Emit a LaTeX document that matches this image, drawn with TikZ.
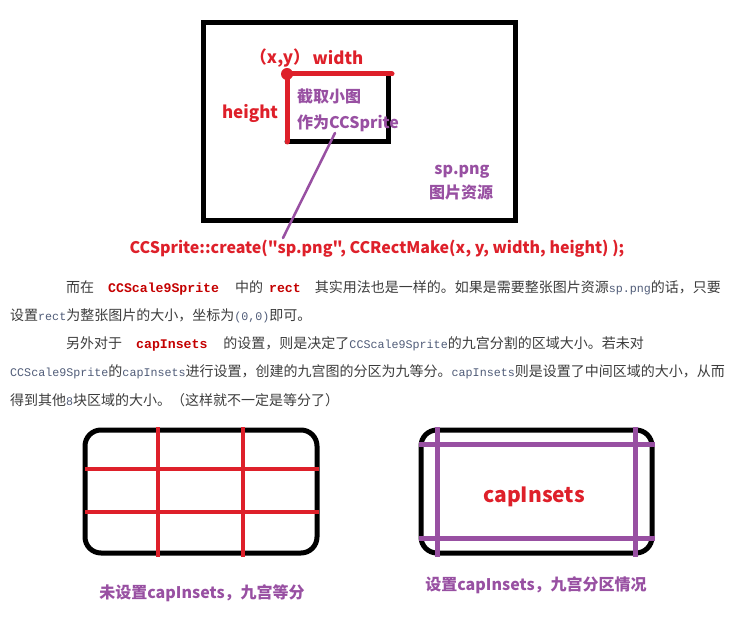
\documentclass[tikz,border=0pt]{standalone}
\usepackage{fontspec}
\setmainfont{Noto Sans CJK SC}[Ligatures=TeXOff]
\setmonofont{Liberation Mono}
\usepackage{xcolor}
\usepackage{tikz}
\usetikzlibrary{calc, positioning}

\definecolor{picred}{RGB}{222,32,42}
\definecolor{picpurple}{RGB}{152,80,162}
\definecolor{codered}{RGB}{196,0,0}
\definecolor{bodygray}{RGB}{60,60,60}
\definecolor{codegray}{RGB}{80,92,120}

\newcommand{\hl}[1]{\textcolor{codered}{\fontsize{13.2}{16}\ttfamily\bfseries #1}}
\newcommand{\cd}[1]{\textcolor{codegray}{\fontsize{11.7}{16}\ttfamily #1}}

\tikzset{
  frame/.style={draw=black, line width=5pt},
  redline/.style={draw=picred, line width=5pt},
  gridred/.style={draw=picred, line width=4pt},
  gridpurple/.style={draw=picpurple, line width=5pt},
  redlbl/.style={text=picred, inner sep=0pt, font=\fontsize{17}{20}\selectfont\bfseries},
  purplbl/.style={text=picpurple, inner sep=0pt, font=\fontsize{16}{19}\selectfont\bfseries},
  bodyline/.style={anchor=west, text=bodygray, inner sep=0pt, font=\fontsize{14}{16}\selectfont},
}

\begin{document}
\begin{tikzpicture}[x=1pt, y=-1pt, line cap=round]
\useasboundingbox (0,0) rectangle (739,620);

% sp.png with the cut-out
\draw[frame, line cap=butt] (203,23) rectangle (515,221);
\draw[frame] (287,142) -- (388,142) -- (388,74);
\draw[redline] (287,142) -- (287,74) -- (392,74);
\fill[picred] (287,74) circle (6);
\node[redlbl] (xy) at (280,58) {（x,y）};
\node[redlbl] (wd) at (338,58) {width};
\node[redlbl] (ht) at (250,113) {height};
\node[purplbl, anchor=west] (cut) at (297,96) {截取小图};
\node[purplbl, anchor=west] (asspr) at (297,123) {作为CCSprite};
\node[purplbl] (sp) at (462,172) {sp.png};
\node[purplbl] (res) at (461,192) {图片资源};
\node[redlbl, font=\fontsize{16}{19}\selectfont\bfseries] (code) at (377,249) {CCSprite::create("sp.png", CCRectMake(x, y, width, height) );};
\coordinate (pinA) at (335,133);
\coordinate (pinB) at (283,238);
\draw[picpurple, line width=2.5pt] (pinA) -- (pinB);

% text
\node[bodyline] (p1) at (66,288) {而在\hspace{14pt}\hl{CCScale9Sprite}\hspace{16pt}中的\hspace{6pt}\hl{rect}\hspace{14pt}其实用法也是一样的。如果是需要整张图片资源\cd{sp.png}的话，只要};
\node[bodyline] (p2) at (10,316) {设置\cd{rect}为整张图片的大小，坐标为\cd{(0,0)}即可。};
\node[bodyline] (p3) at (66,344) {另外对于\hspace{14pt}\hl{capInsets}\hspace{16pt}的设置，则是决定了\cd{CCScale9Sprite}的九宫分割的区域大小。若未对};
\node[bodyline] (p4) at (10,372) {\cd{CCScale9Sprite}的\cd{capInsets}进行设置，创建的九宫图的分区为九等分。\cd{capInsets}则是设置了中间区域的大小，从而};
\node[bodyline] (p5) at (10,400) {得到其他\cd{8}块区域的大小。（这样就不一定是等分了）};

% nine equal parts
\draw[frame, rounded corners=16pt] (85,430) rectangle (317,553);
\foreach \gx in {158,243}
  \draw[gridred, line cap=butt] (\gx,427) -- (\gx,557);
\foreach \gy in {469,512}
  \draw[gridred, line cap=butt] (85,\gy) -- (319,\gy);
\node[purplbl] (lblA) at (202,593) {未设置capInsets，九宫等分};

% with capInsets
\draw[frame, rounded corners=16pt] (421,430) rectangle (652,553);
\foreach \gx in {437,635}
  \draw[gridpurple, line cap=butt] (\gx,427) -- (\gx,557);
\foreach \gy in {444,538}
  \draw[gridpurple, line cap=butt] (419,\gy) -- (655,\gy);
\node[redlbl, font=\fontsize{21}{24}\selectfont\bfseries] (capin) at (534,497) {capInsets};
\node[purplbl] (lblB) at (536,585) {设置capInsets，九宫分区情况};
\end{tikzpicture}
\end{document}
